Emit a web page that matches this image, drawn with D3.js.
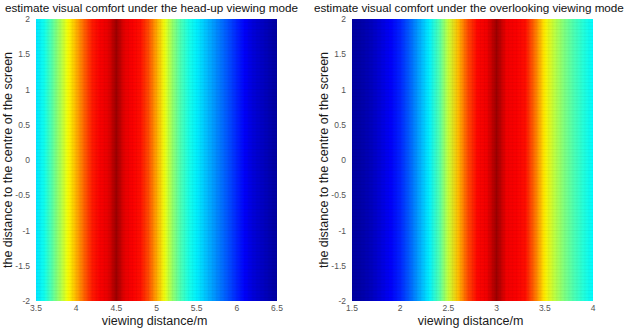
<!DOCTYPE html>
<html>
<head>
<meta charset="utf-8">
<script src="https://cdn.jsdelivr.net/npm/d3@7"></script>
<style>
  body { margin: 0; background: #fff; }
  svg { display: block; font-family: "Liberation Sans", Arial, sans-serif; }
</style>
</head>
<body>
<svg id="chart" width="628" height="329"></svg>
<script>
// viewing distance samples (m) and estimated comfort (0..1)
const headUpDist = [3.5,3.6,3.7,3.8,3.9,4.0,4.1,4.2,4.3,4.4,4.5,4.6,4.7,4.8,4.9,5.0,5.1,5.2,5.3,5.4,5.5,5.6,5.7,5.8,5.9,6.0,6.1,6.2,6.3,6.4,6.5];
const headUpComfort = [0.35,0.39,0.46,0.54,0.62,0.70,0.78,0.85,0.88,0.90,0.97,0.90,0.88,0.86,0.80,0.71,0.61,0.52,0.45,0.40,0.36,0.32,0.28,0.24,0.20,0.16,0.12,0.09,0.07,0.05,0.03];
const overDist = [1.5,1.6,1.7,1.8,1.9,2.0,2.1,2.2,2.3,2.4,2.5,2.6,2.7,2.8,2.9,3.0,3.1,3.2,3.3,3.4,3.5,3.6,3.7,3.8,3.9,4.0];
const overComfort = [0.03,0.04,0.06,0.09,0.12,0.16,0.22,0.29,0.36,0.45,0.57,0.69,0.80,0.87,0.89,0.97,0.89,0.88,0.86,0.76,0.64,0.56,0.50,0.45,0.41,0.37];

const headUpTicks = [3.5,4,4.5,5,5.5,6,6.5];
const overTicks = [1.5,2,2.5,3,3.5,4];
const yTicks = [-2,-1.5,-1,-0.5,0,0.5,1,1.5,2];

const panels = [
  { id: "hu", title: "estimate visual comfort under the head-up viewing mode",
    dist: headUpDist, comfort: headUpComfort, ticks: headUpTicks, left: 36, titleX: 5 },
  { id: "ov", title: "estimate visual comfort under the overlooking viewing mode",
    dist: overDist, comfort: overComfort, ticks: overTicks, left: 352, titleX: 314 }
];

const plotW = 241, plotTop = 19, plotBottom = 301;

// matlab jet
const jet = d3.scaleLinear()
  .domain([0, 0.125, 0.375, 0.625, 0.875, 1])
  .range(["#000080", "#0000ff", "#00ffff", "#ffff00", "#ff0000", "#800000"])
  .clamp(true);

const svg = d3.select("#chart");
const defs = svg.append("defs");

const y = d3.scaleLinear().domain([-2, 2]).range([plotBottom, plotTop]);

panels.forEach(p => {
  const x = d3.scaleLinear().domain(d3.extent(p.dist)).range([p.left, p.left + plotW]);
  const g = svg.append("g");

  const grad = defs.append("linearGradient")
    .attr("id", "grad-" + p.id)
    .attr("gradientUnits", "userSpaceOnUse")
    .attr("x1", x.range()[0]).attr("x2", x.range()[1])
    .attr("y1", 0).attr("y2", 0);
  grad.selectAll("stop")
    .data(p.dist.map((d, i) => ({ d, v: p.comfort[i] })))
    .enter().append("stop")
    .attr("offset", d => (x(d.d) - x.range()[0]) / plotW)
    .attr("stop-color", d => jet(d.v));

  g.append("rect")
    .attr("x", x.range()[0]).attr("y", plotTop)
    .attr("width", plotW).attr("height", plotBottom - plotTop)
    .attr("fill", "url(#grad-" + p.id + ")");

  // faint surface mesh
  const nx = 60, ny = 80;
  g.append("g").selectAll("line.v")
    .data(d3.range(1, nx)).enter().append("line")
    .attr("x1", i => x.range()[0] + i * plotW / nx).attr("x2", i => x.range()[0] + i * plotW / nx)
    .attr("y1", plotTop).attr("y2", plotBottom)
    .attr("stroke", "#000").attr("stroke-opacity", 0.06).attr("stroke-width", 0.6);
  g.append("g").selectAll("line.h")
    .data(d3.range(1, ny)).enter().append("line")
    .attr("y1", i => plotTop + i * (plotBottom - plotTop) / ny).attr("y2", i => plotTop + i * (plotBottom - plotTop) / ny)
    .attr("x1", x.range()[0]).attr("x2", x.range()[1])
    .attr("stroke", "#000").attr("stroke-opacity", 0.08).attr("stroke-width", 0.6);

  // x tick labels
  g.selectAll("text.xt")
    .data(p.ticks).enter().append("text")
    .attr("x", d => x(d)).attr("y", 311)
    .attr("text-anchor", "middle")
    .attr("font-size", 8.5).attr("fill", "#555")
    .text(d => d);

  // y tick labels
  g.selectAll("text.yt")
    .data(yTicks).enter().append("text")
    .attr("x", p.left - 6).attr("y", d => y(d) + 3)
    .attr("text-anchor", "end")
    .attr("font-size", 8.5).attr("fill", "#555")
    .text(d => d);

  g.append("text")
    .attr("x", p.left + plotW / 2 - 2).attr("y", 325)
    .attr("text-anchor", "middle")
    .attr("font-size", 12.5).attr("fill", "#1a1a1a")
    .text("viewing distance/m");

  g.append("text")
    .attr("transform", `translate(${p.left - 24},${(plotTop + plotBottom) / 2}) rotate(-90)`)
    .attr("text-anchor", "middle")
    .attr("font-size", 12.5).attr("fill", "#1a1a1a")
    .text("the distance to the centre of the screen");

  g.append("text")
    .attr("x", p.titleX).attr("y", 12)
    .attr("font-size", 11.7).attr("fill", "#111")
    .text(p.title);
});
</script>
</body>
</html>
